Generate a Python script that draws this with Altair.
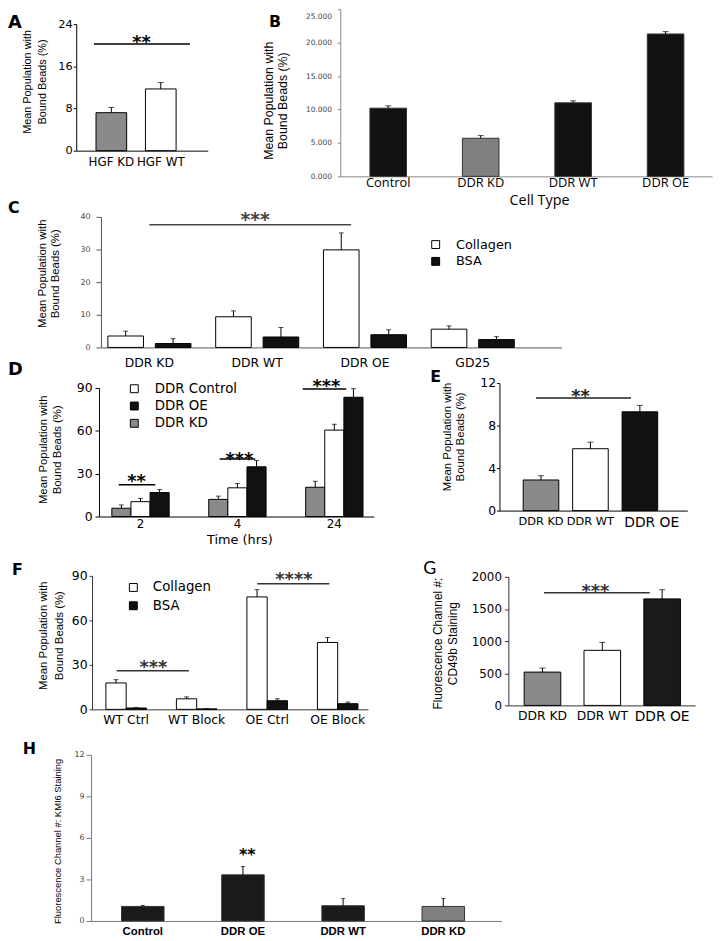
import altair as alt
import pandas as pd

# ---------------- data ----------------
A_cats = ["HGF KD", "HGF WT"]
A_vals = [7.2, 11.7]
A_errs = [1.0, 1.2]

B_cats = ["Control", "DDR KD", "DDR WT", "DDR OE"]
B_vals = [10.2, 5.7, 11.0, 21.3]
B_errs = [0.35, 0.40, 0.30, 0.35]

C_groups = ["DDR KD", "DDR WT", "DDR OE", "GD25"]
C_series = ["Collagen", "BSA"]
C_collagen = [3.5, 9.4, 29.9, 5.6]
C_collagen_err = [1.5, 1.8, 5.2, 1.0]
C_bsa = [1.2, 3.2, 3.9, 2.4]
C_bsa_err = [1.5, 2.9, 1.5, 0.9]

D_times = ["2", "4", "24"]
D_series = ["DDR KD", "DDR Control", "DDR OE"]
D_legend_order = ["DDR Control", "DDR OE", "DDR KD"]
D_kd = [5.8, 12.0, 20.5]
D_kd_err = [2.3, 2.3, 4.2]
D_ctrl = [10.4, 20.1, 60.5]
D_ctrl_err = [2.3, 3.0, 4.1]
D_oe = [16.8, 34.8, 83.5]
D_oe_err = [2.1, 4.4, 6.0]

E_cats = ["DDR KD", "DDR WT", "DDR OE"]
E_vals = [2.88, 5.82, 9.29]
E_errs = [0.40, 0.62, 0.61]

F_groups = ["WT Ctrl", "WT Block", "OE Ctrl", "OE Block"]
F_series = ["Collagen", "BSA"]
F_collagen = [17.8, 7.1, 75.8, 45.1]
F_collagen_err = [2.2, 1.3, 4.9, 3.3]
F_bsa = [0.9, 0.3, 5.8, 3.8]
F_bsa_err = [0.3, 0.2, 1.3, 1.1]

G_cats = ["DDR KD", "DDR WT", "DDR OE"]
G_vals = [518, 857, 1657]
G_errs = [62, 123, 143]

H_cats = ["Control", "DDR OE", "DDR WT", "DDR KD"]
H_vals = [1.05, 3.33, 1.10, 1.05]
H_errs = [0.07, 0.60, 0.52, 0.57]

# significance marks: (from, to, line level, star level, label)
A_sig = [("HGF KD", "HGF WT", 20.2, 21.6, "**")]
C_sig = [("DDR KD", "DDR OE", 37.6, 40.6, "***")]
D_sig = [("2", "2", 22.2, 28.4, "**"), ("4", "4", 40.2, 43.6, "***"), ("24", "24", 89.3, 94.8, "***")]
E_sig = [("DDR KD", "DDR OE", 10.6, 11.26, "**")]
F_sig = [("WT Ctrl", "WT Block", 26.0, 32.0, "***"), ("OE Ctrl", "OE Block", 84.7, 91.3, "****")]
G_sig = [("DDR KD", "DDR OE", 1754, 1862, "***")]
H_sig = [("DDR OE", "DDR OE", None, 5.07, "**")]

LETTERS = ["A", "B", "C", "D", "E", "F", "G", "H"]

# ---------------- layout helpers ----------------
M = 8
W, H = 718, 933
TFONT = "Liberation Sans"
SANS = "DejaVu Sans"
BLACK = "#111111"
GRAY = "#8a8a8a"


def band(r0, r1, left0, step, bw, n, domain):
    span = r1 - r0
    pi = 1 - bw / step
    po = max(0.0, (span / step - n + pi) / 2)
    extra = span - step * (n - pi)
    align = min(1.0, max(0.0, (left0 - r0) / extra)) if extra > 0 else 0.5
    return alt.Scale(domain=domain, range=[r0 - M, r1 - M], paddingInner=pi,
                     paddingOuter=po, align=align)


def lin(domain, y0, y1):
    return alt.Scale(domain=domain, range=[y0 - M, y1 - M], nice=False, zero=True)


def yaxis(ax_x, values, title, t_left, t_cy, t_fs, t_lh, l_fs, l_color="black",
          d_color="black", tick=3, pad=2, fmt="d", **extra):
    kw = dict(orient="left", offset=-(ax_x - M), values=values, title=title,
              titleAngle=270, titleX=t_left - ax_x, titleY=t_cy - M, titleAlign="center",
              titleBaseline="top", titleFont=TFONT, titleFontSize=t_fs,
              titleFontWeight="normal", titleLineHeight=t_lh, titleColor="black",
              labelFont=SANS, labelFontSize=l_fs, labelColor=l_color,
              domainColor=d_color, tickColor=d_color, tickSize=tick, labelPadding=pad,
              grid=False, domainWidth=1, tickWidth=1, format=fmt)
    kw.update(extra)
    return alt.Axis(**kw)


def xaxis(ax_y, l_fs, pad, font=SANS, weight="normal", d_color="black", title=None,
          t_x=0, t_y=0, t_font=SANS, t_fs=13, **extra):
    kw = dict(orient="bottom", offset=(ax_y - M) - H, labelAngle=0, ticks=False,
              tickSize=0, labelPadding=pad, labelFont=font, labelFontSize=l_fs,
              labelFontWeight=weight, labelColor="black", domainColor=d_color,
              domainWidth=1, grid=False, title=title)
    if title is not None:
        kw.update(titleX=t_x - M, titleY=t_y, titleAlign="center",
                  titleBaseline="alphabetic", titleFont=t_font, titleFontSize=t_fs,
                  titleFontWeight="normal", titleColor="black")
    kw.update(extra)
    return alt.Axis(**kw)


def simple(cats, vals, errs, fills, xs, ys, xax, yax, stroke="#000", cap=6):
    df = pd.DataFrame({"cat": cats, "v": vals,
                       "hi": [a + b for a, b in zip(vals, errs)]})
    base = alt.Chart(df)
    bars = base.mark_bar(stroke=stroke, strokeWidth=1).encode(
        x=alt.X("cat:N", scale=xs, axis=xax),
        y=alt.Y("v:Q", scale=ys, axis=yax),
        color=alt.Color("cat:N", scale=alt.Scale(domain=cats, range=fills), legend=None),
    )
    rule = base.mark_rule(color="#000", strokeWidth=1).encode(
        x=alt.X("cat:N", scale=xs),
        y=alt.Y("v:Q", scale=ys), y2=alt.Y2("hi"))
    tick = base.mark_tick(color="#000", size=cap, thickness=1).encode(
        x=alt.X("cat:N", scale=xs),
        y=alt.Y("hi:Q", scale=ys))
    return [bars, rule, tick]


def grouped(groups, series, vals, errs, fills, xs, offs, ys, xax, yax, legend,
            color_domain, cap=5):
    rows = []
    for s, vs, es in zip(series, vals, errs):
        for g, v, e in zip(groups, vs, es):
            rows.append({"cat": g, "s": s, "v": v, "hi": v + e})
    df = pd.DataFrame(rows)
    crange = [fills[series.index(c)] for c in color_domain]
    base = alt.Chart(df)
    bars = base.mark_bar(stroke="#000", strokeWidth=1).encode(
        x=alt.X("cat:N", scale=xs, axis=xax),
        xOffset=alt.XOffset("s:N", scale=offs),
        y=alt.Y("v:Q", scale=ys, axis=yax),
        color=alt.Color("s:N", scale=alt.Scale(domain=color_domain, range=crange),
                        legend=legend),
    )
    rule = base.mark_rule(color="#000", strokeWidth=1).encode(
        x=alt.X("cat:N", scale=xs),
        xOffset=alt.XOffset("s:N", scale=offs),
        y=alt.Y("v:Q", scale=ys), y2=alt.Y2("hi"))
    tick = base.mark_tick(color="#000", size=cap, thickness=1).encode(
        x=alt.X("cat:N", scale=xs),
        xOffset=alt.XOffset("s:N", scale=offs),
        y=alt.Y("hi:Q", scale=ys))
    return [bars, rule, tick]


def sig(xs, ys, entry, dxa, dxb, dxs, color="#000", fs=18, lw=1.5):
    a, b, lvl, slvl, lab = entry
    d = pd.DataFrame({"cat": [a], "cat2": [b], "lvl": [lvl], "slvl": [slvl], "lab": [lab]})
    out = []
    if lvl is not None:
        out.append(alt.Chart(d).mark_rule(color=color, strokeWidth=lw, xOffset=dxa,
                                          x2Offset=dxb).encode(
            x=alt.X("cat:N", scale=xs), x2=alt.X2("cat2"),
            y=alt.Y("lvl:Q", scale=ys)))
    out.append(alt.Chart(d).mark_text(font=SANS, fontSize=fs, fontWeight="bold", color=color,
                                      align="center", baseline="alphabetic", dx=dxs,
                                      dy=round(0.59 * fs)).encode(
        x=alt.X("cat:N", scale=xs),
        y=alt.Y("slvl:Q", scale=ys), text="lab:N"))
    return out


def legend(lx, ly, fs, loff, rpad):
    return alt.Legend(orient="none", legendX=lx - M, legendY=ly - M, title=None,
                      symbolType="square", symbolSize=64, symbolStrokeColor="#000",
                      symbolStrokeWidth=1, symbolOpacity=1, labelFont=SANS,
                      labelFontSize=fs, labelOffset=loff, rowPadding=rpad, padding=0,
                      labelColor="black")


def letter(t, x, y, fs, weight="bold", font=SANS):
    return alt.Chart(pd.DataFrame({"t": [t]})).mark_text(
        align="left", baseline="alphabetic", fontSize=fs, fontWeight=weight, font=font,
        color="black").encode(x=alt.value(max(0, x - M)), y=alt.value(y - M), text="t:N")


panels = []

# ---- A ----
xs = band(77, 210, 97, 50, 31, 2, A_cats)
ys = lin([0, 24], 147, 19)
layers = simple(A_cats, A_vals, A_errs, [GRAY, "#ffffff"], xs, ys,
                xaxis(147, 12, 6),
                yaxis(77, [0, 8, 16, 24], ["Mean Population with", "Bound Beads (%)"],
                      22, 77, 11, 15, 11.5, tick=3, pad=1))
layers += sig(xs, ys, A_sig[0], -17.5, 29.5, 30.5, fs=18)
panels.append(alt.layer(*layers))

# ---- B ----
xs = band(344, 720, 374, 93.5, 37, 4, B_cats)
ys = lin([0, 25], 173, 4)
b_top = {"condition": {"test": "datum.value == 25", "value": 7}, "value": 0}
layers = simple(B_cats, B_vals, B_errs, [BLACK, "#7f7f7f", BLACK, BLACK], xs, ys,
                xaxis(173, 13, 0, font="Open Sans", d_color="#888", title="Cell Type",
                      t_x=545, t_y=28, t_font="Open Sans", t_fs=14.5),
                yaxis(344, [0, 5, 10, 15, 20, 25], ["Mean Population with", "Bound Beads (%)"],
                      265, 96, 12.5, 15, 7.5, l_color="#444", d_color="#888", tick=3, pad=6,
                      fmt=".3f", labelOffset=b_top), stroke="#333")
panels.append(alt.layer(*layers))

# ---- C ----
xs = band(102, 568, 109, 109, 84, 4, C_groups)
offs = alt.Scale(domain=C_series, paddingInner=0.25, paddingOuter=0)
ys = lin([0, 40], 346, 214)
layers = grouped(C_groups, C_series, [C_collagen, C_bsa], [C_collagen_err, C_bsa_err],
                 ["#ffffff", BLACK], xs, offs, ys,
                 xaxis(346, 12.5, 9, d_color="#555"),
                 yaxis(102, [0, 10, 20, 30, 40], ["Mean Population with", "Bound Beads (%)"],
                       37, 271, 11.5, 13, 8, l_color="#444", d_color="#555", tick=5, pad=6),
                 legend(434, 227.5 + M, 13, 14, 3), C_series)
layers += sig(xs, ys, C_sig[0], 0, -14, 107, color="#444", fs=19)
panels.append(alt.layer(*layers))

# ---- D ----
xs = band(100, 378, 113, 98, 58, 3, D_times)
offs = alt.Scale(domain=D_series, paddingInner=0, paddingOuter=0)
ys = lin([0, 90], 517, 387)
layers = grouped(D_times, D_series, [D_kd, D_ctrl, D_oe], [D_kd_err, D_ctrl_err, D_oe_err],
                 [GRAY, "#ffffff", BLACK], xs, offs, ys,
                 xaxis(517, 12, 2, title="Time (hrs)", t_x=242, t_y=27, t_fs=13),
                 yaxis(100, [0, 30, 60, 90], ["Mean Population with", "Bound Beads (%)"],
                       38, 449, 11.5, 14, 12.5, tick=4, pad=3),
                 legend(129, 373 + M, 13.5, 14, 2.5), D_legend_order)
for entry, (a, b, c) in zip(D_sig, [(-22, 15, -4), (-18, 18, 2), (-32, 12, -8)]):
    layers += sig(xs, ys, entry, a, b, c, fs=18)
panels.append(alt.layer(*layers))

# ---- E ----
oe_big = {"condition": {"test": "datum.value == 'DDR OE'", "value": 14}, "value": 11.5}
oe_shift = {"condition": {"test": "datum.value == 'DDR OE'", "value": 12}, "value": 0}
xs = band(505, 695, 529, 50, 36, 3, E_cats)
ys = lin([0, 12], 511, 382)
layers = simple(E_cats, E_vals, E_errs, [GRAY, "#ffffff", BLACK], xs, ys,
                xaxis(511, oe_big, 5, labelOffset=oe_shift),
                yaxis(505, [0, 4, 8, 12], ["Mean Population with", "Bound Beads (%)"],
                      446, 436, 11.5, 14, 12.5, tick=3, pad=1))
layers += sig(xs, ys, E_sig[0], -5, -9, 40, color="#222", fs=18)
panels.append(alt.layer(*layers))

# ---- F ----
xs = band(93, 372, 107, 71.3, 41, 4, F_groups)
offs = alt.Scale(domain=F_series, paddingInner=0, paddingOuter=0)
ys = lin([0, 90], 712, 577)
layers = grouped(F_groups, F_series, [F_collagen, F_bsa], [F_collagen_err, F_bsa_err],
                 ["#ffffff", BLACK], xs, offs, ys,
                 xaxis(712, 12.5, 4, d_color="#333"),
                 yaxis(93, [0, 30, 60, 90], ["Mean Population with", "Bound Beads (%)"],
                       38, 637, 11.5, 16, 12.5, d_color="#333", tick=3, pad=2),
                 legend(128, 574 + M, 13.5, 13, 3.5), F_series)
for entry, (a, b, c) in zip(F_sig, [(-9.5, -7.8, 27.5), (-10, -8.4, 27)]):
    layers += sig(xs, ys, entry, a, b, c, color="#333", fs=18)
panels.append(alt.layer(*layers))

# ---- G ----
oe_big_g = {"condition": {"test": "datum.value == 'DDR OE'", "value": 14}, "value": 12.5}
xs = band(514, 703, 530, 60.5, 37, 3, G_cats)
ys = lin([0, 2000], 708, 578)
layers = simple(G_cats, G_vals, G_errs, [GRAY, "#ffffff", "#1a1a1a"], xs, ys,
                xaxis(708, oe_big_g, 4, d_color="#333"),
                yaxis(514, [0, 500, 1000, 1500, 2000],
                      ["Fluorescence Channel #:", "CD49b Staining"],
                      437, 645, 12, 16, 12, d_color="#333", tick=4, pad=3))
layers += sig(xs, ys, G_sig[0], 1.5, -12.5, 53.5, color="#333", fs=18)
panels.append(alt.layer(*layers))

# ---- H ----
xs = band(92, 507, 122.8, 101.3, 43, 4, H_cats)
ys = lin([0, 12], 926, 758)
layers = simple(H_cats, H_vals, H_errs, ["#1a1a1a", "#1a1a1a", "#1a1a1a", "#808080"], xs, ys,
                xaxis(926, 11.5, 5, font="Liberation Sans", weight="bold", d_color="#777"),
                yaxis(92, [0, 3, 6, 9, 12], "Fluorescence Channel #: KMI6 Staining",
                      53, 845, 9.5, 12, 8, l_color="#444", d_color="#777", tick=5, pad=2),
                stroke="#333", cap=4)
layers += sig(xs, ys, H_sig[0], 0, 0, 4.4, fs=16)
panels.append(alt.layer(*layers))

# ---- panel letters ----
letter_specs = [(2, 23, 18, "bold", SANS), (272, 22, 16, "bold", SANS),
                (2, 210, 16, "bold", SANS), (2, 374, 18, "bold", SANS),
                (435, 381, 16, "bold", SANS), (12, 576, 16, "bold", SANS),
                (428, 575, 18, "normal", "Lato"), (23, 757, 16, "bold", SANS)]
for t, (x, y, fs, wt, fnt) in zip(LETTERS, letter_specs):
    panels.append(letter(t, x, y, fs, wt, fnt))

chart = alt.layer(*panels).properties(
    width=W, height=H, padding=0, autosize=alt.AutoSizeParams(type="none")
).resolve_scale(
    x="independent", y="independent", color="independent", xOffset="independent"
).configure_view(stroke=None).configure_axis(grid=False)

chart.save("out.html", embed_options={"renderer": "svg", "actions": False})
